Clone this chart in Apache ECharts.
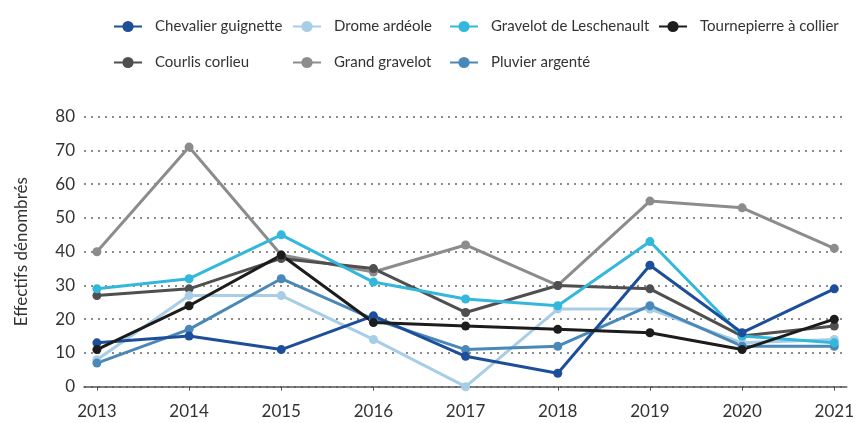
<!DOCTYPE html>
<html>
<head>
<meta charset="utf-8">
<script src="https://cdn.jsdelivr.net/npm/echarts@6/dist/echarts.min.js"></script>
<style>
  html, body { margin: 0; padding: 0; background: #fff; }
  #chart { width: 857px; height: 423px; }
</style>
</head>
<body>
<div id="chart"></div>
<script>
// years on the x axis
const years = [2013, 2014, 2015, 2016, 2017, 2018, 2019, 2020, 2021]
const yTicks = [0, 10, 20, 30, 40, 50, 60, 70, 80]

// counts per species
const chevalierGuignette = [13, 15, 11, 21, 9, 4, 36, 16, 29]
const dromeArdeole = [8, 27, 27, 14, 0, 23, 23, 13, 14]
const gravelotLeschenault = [29, 32, 45, 31, 26, 24, 43, 15, 13]
const tournepierre = [11, 24, 39, 19, 18, 17, 16, 11, 20]
const courlisCorlieu = [27, 29, 38, 35, 22, 30, 29, 15, 18]
const grandGravelot = [40, 71, 39, 34, 42, 30, 55, 53, 41]
const pluvierArgente = [7, 17, 32, 20, 11, 12, 24, 12, 12]

const font = 'Lato'
const textColor = '#333'

function line(name, values, color) {
  return {
    name: name,
    type: 'line',
    data: values.map((v, i) => [years[i], v]),
    symbol: 'circle',
    symbolSize: 9,
    lineStyle: { width: 3, color: color },
    itemStyle: { color: color },
    emphasis: { disabled: true }
  }
}

function legendCol(left, names) {
  return {
    orient: 'vertical',
    left: left,
    top: 14,
    itemWidth: 28,
    itemHeight: 14,
    itemGap: 21,
    data: names,
    textStyle: { fontFamily: font, fontSize: 15, color: textColor, padding: [0, 0, 0, 8] }
  }
}

const chart = echarts.init(document.getElementById('chart'))
chart.setOption({
  animation: false,
  textStyle: { fontFamily: font },
  legend: [
    legendCol(108, ['Chevalier guignette', 'Courlis corlieu']),
    legendCol(287, ['Drome ardéole', 'Grand gravelot']),
    legendCol(444, ['Gravelot de Leschenault', 'Pluvier argenté']),
    legendCol(653, ['Tournepierre à collier'])
  ],
  grid: {
    left: 84,
    right: 8,
    top: 116.7,
    bottom: 36.3
  },
  xAxis: {
    type: 'value',
    min: 2012.86,
    max: 2021.135,
    offset: 13,
    splitLine: { show: false },
    axisLine: { show: true, lineStyle: { color: '#555', width: 1.5 } },
    axisTick: { show: true, customValues: years, length: 4, lineStyle: { color: '#555' } },
    axisLabel: {
      customValues: years,
      formatter: v => String(v),
      fontFamily: font,
      fontSize: 17,
      color: textColor,
      margin: 3
    }
  },
  yAxis: {
    type: 'value',
    min: 0,
    max: 80,
    interval: 10,
    name: 'Effectifs dénombrés',
    nameLocation: 'middle',
    nameGap: 54,
    nameTextStyle: { fontFamily: font, fontSize: 17, color: textColor },
    axisLine: { show: false },
    axisTick: { show: false },
    axisLabel: {
      fontFamily: font,
      fontSize: 17,
      color: textColor,
      margin: 9,
      formatter: v => (yTicks.includes(v) ? String(v) : '')
    },
    splitLine: { lineStyle: { type: [2, 5], color: '#666', width: 1.5 } }
  },
  series: [
    line('Grand gravelot', grandGravelot, '#8c8c8c'),
    line('Courlis corlieu', courlisCorlieu, '#4f4f4f'),
    line('Drome ardéole', dromeArdeole, '#a8cde6'),
    line('Pluvier argenté', pluvierArgente, '#4a88b8'),
    line('Gravelot de Leschenault', gravelotLeschenault, '#33b8dc'),
    line('Chevalier guignette', chevalierGuignette, '#1d4e9a'),
    line('Tournepierre à collier', tournepierre, '#1c1c1c')
  ]
})
</script>
</body>
</html>
